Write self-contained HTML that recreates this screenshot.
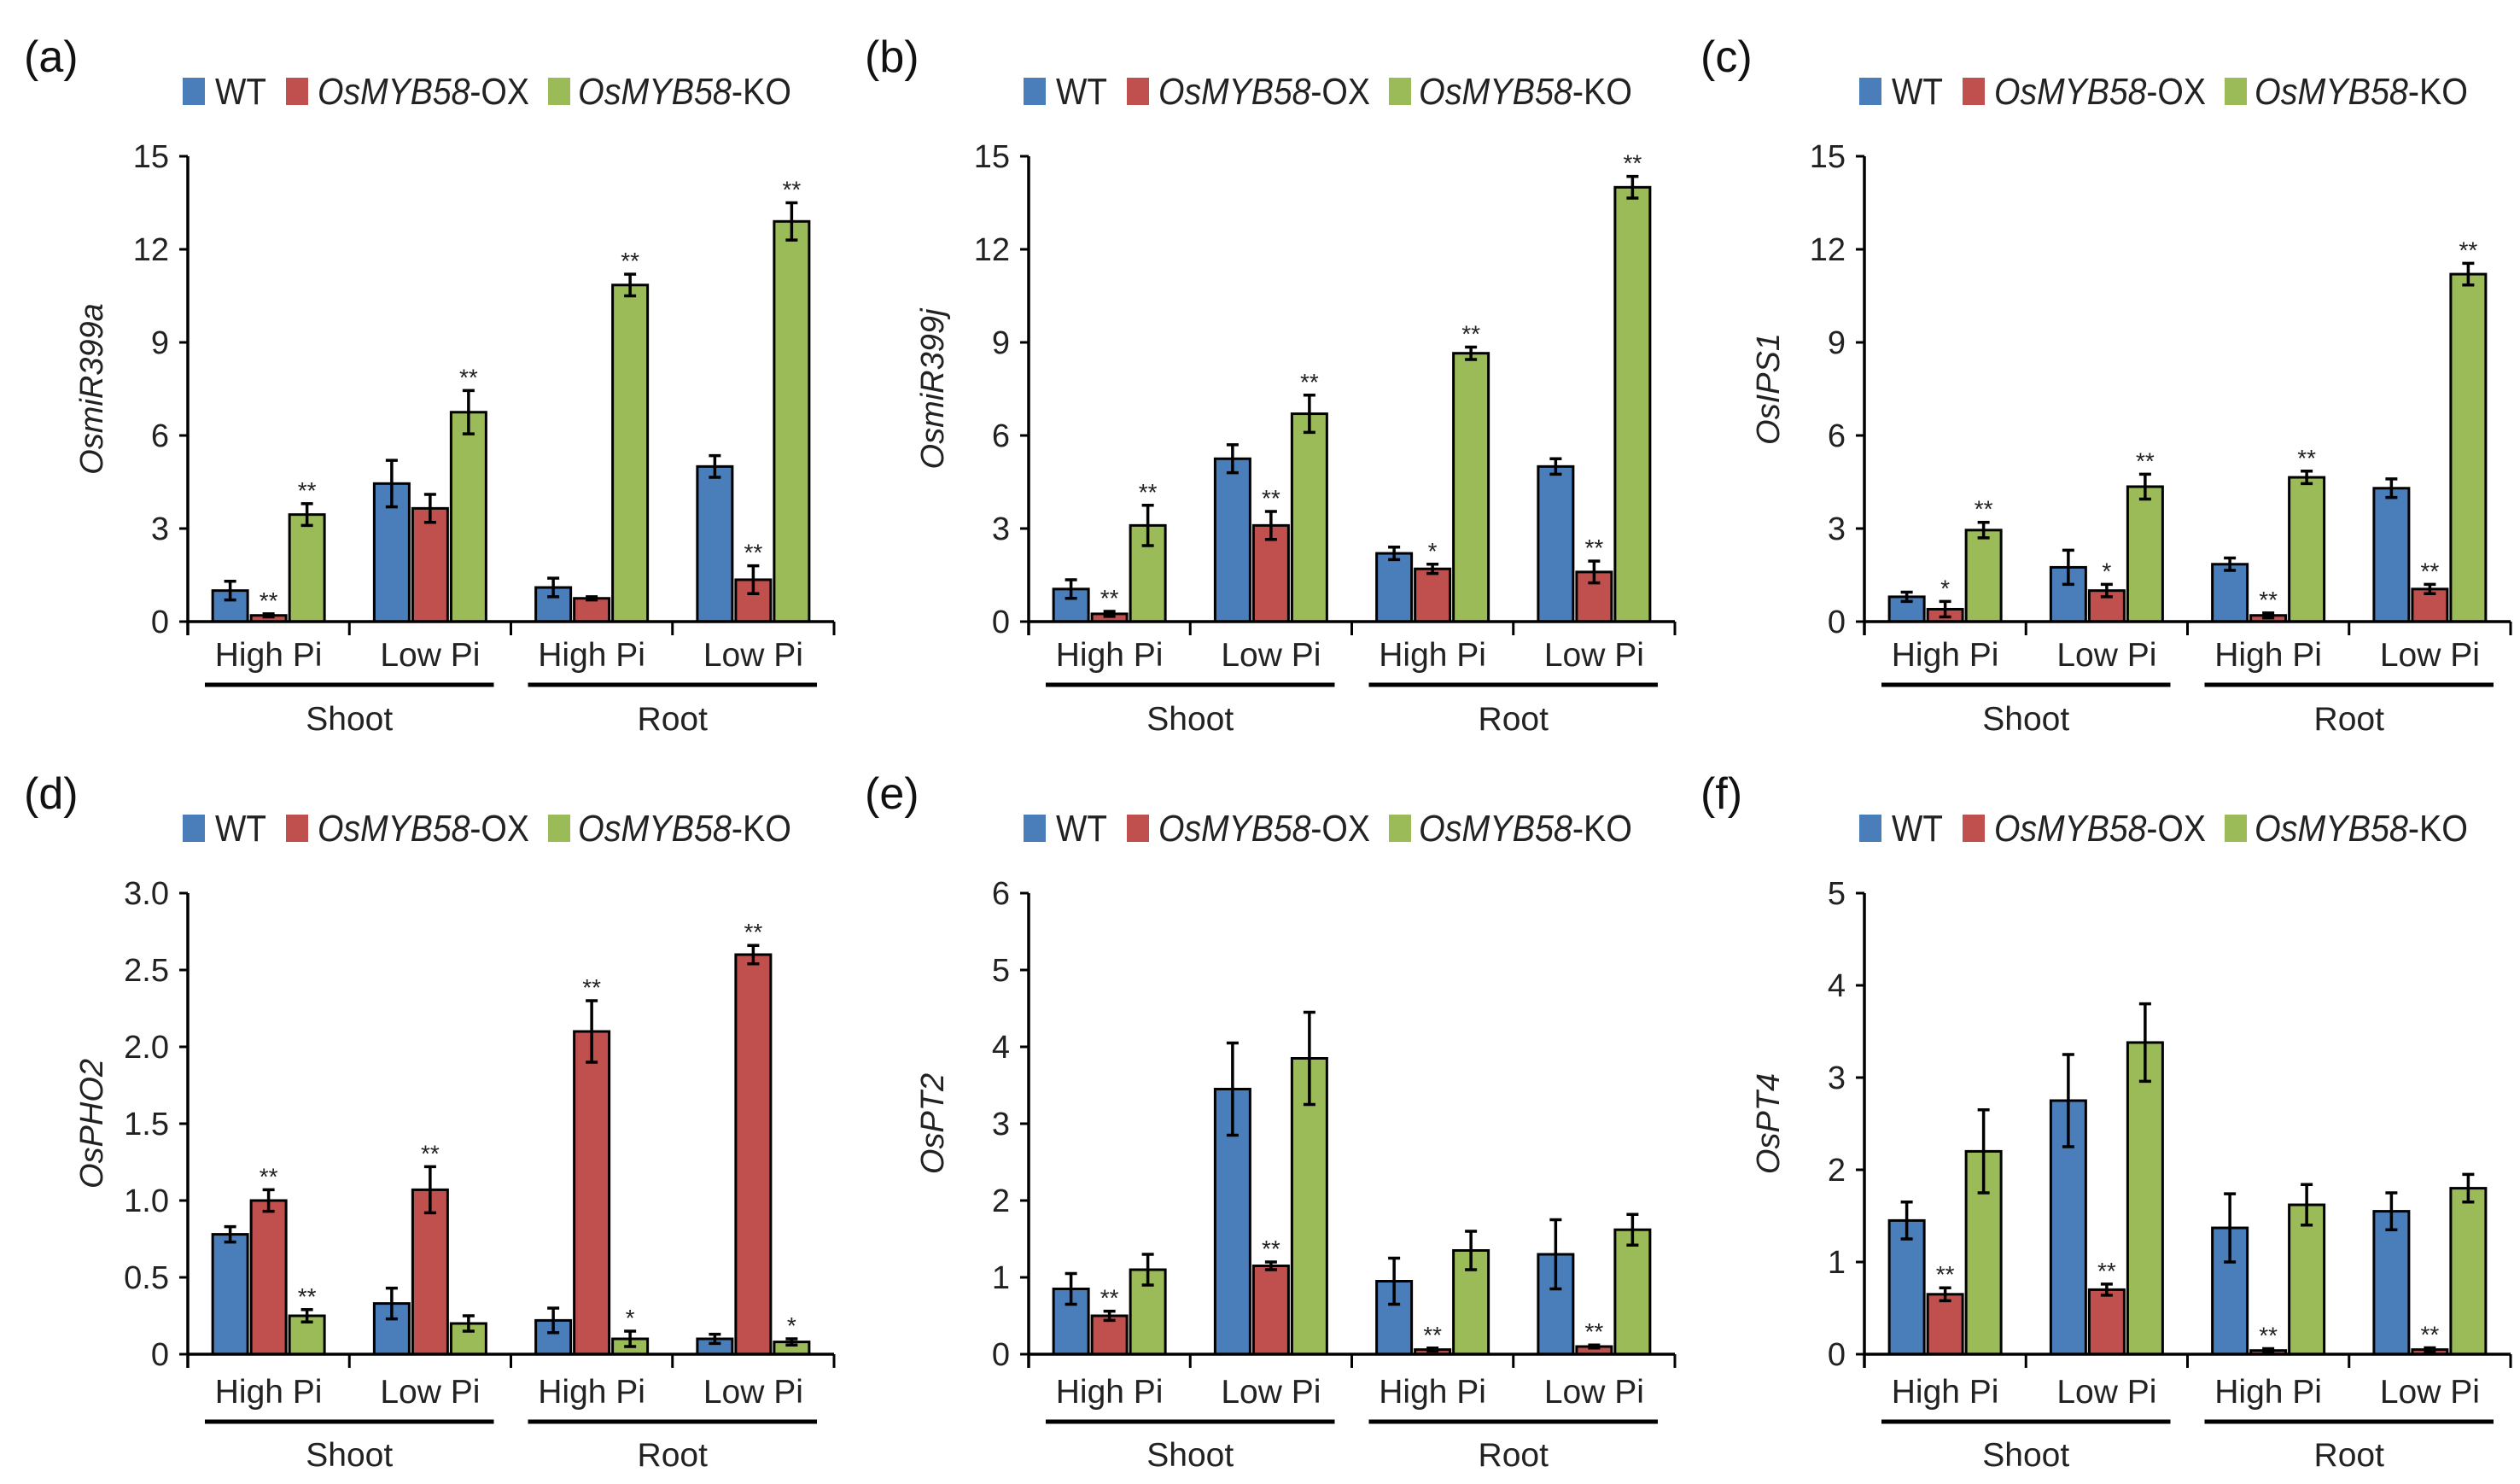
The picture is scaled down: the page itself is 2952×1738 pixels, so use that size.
<!DOCTYPE html>
<html><head><meta charset="utf-8"><style>
html,body{margin:0;padding:0;background:#fff}
svg{display:block;font-family:"Liberation Sans",Arial,sans-serif}
</style></head><body>
<svg id="fig" width="2952" height="1738" viewBox="0 0 2952 1738" xmlns="http://www.w3.org/2000/svg"></svg>
<script>
const seriesNames = ["WT", "OsMYB58-OX", "OsMYB58-KO"];
const groupLabels = ["High Pi", "Low Pi", "High Pi", "Low Pi"];
const tissueLabels = ["Shoot", "Root"];
const panelLetters = ["(a)", "(b)", "(c)", "(d)", "(e)", "(f)"];
const panelTitles = ["OsmiR399a", "OsmiR399j", "OsIPS1", "OsPHO2", "OsPT2", "OsPT4"];
const yMax = [15, 15, 15, 3.0, 6, 5];
const yStep = [3, 3, 3, 0.5, 1, 1];
const yTickLabels = [
 ["0","3","6","9","12","15"],["0","3","6","9","12","15"],["0","3","6","9","12","15"],
 ["0","0.5","1.0","1.5","2.0","2.5","3.0"],["0","1","2","3","4","5","6"],["0","1","2","3","4","5"]];
const values = [
 [[1.0,0.2,3.45],[4.45,3.65,6.75],[1.1,0.75,10.85],[5.0,1.35,12.9]],
 [[1.05,0.25,3.1],[5.25,3.1,6.7],[2.2,1.7,8.65],[5.0,1.6,14.0]],
 [[0.8,0.4,2.95],[1.75,1.0,4.35],[1.85,0.2,4.65],[4.3,1.05,11.2]],
 [[0.78,1.0,0.25],[0.33,1.07,0.2],[0.22,2.1,0.1],[0.1,2.6,0.08]],
 [[0.85,0.5,1.1],[3.45,1.15,3.85],[0.95,0.06,1.35],[1.3,0.1,1.62]],
 [[1.45,0.65,2.2],[2.75,0.7,3.38],[1.37,0.04,1.62],[1.55,0.05,1.8]]];
const errors = [
 [[0.3,0.05,0.35],[0.75,0.45,0.7],[0.3,0.05,0.35],[0.35,0.45,0.6]],
 [[0.3,0.08,0.65],[0.45,0.45,0.6],[0.2,0.15,0.2],[0.25,0.35,0.35]],
 [[0.15,0.25,0.25],[0.55,0.2,0.4],[0.2,0.08,0.2],[0.3,0.15,0.35]],
 [[0.05,0.07,0.04],[0.1,0.15,0.05],[0.08,0.2,0.05],[0.03,0.06,0.02]],
 [[0.2,0.06,0.2],[0.6,0.05,0.6],[0.3,0.02,0.25],[0.45,0.02,0.2]],
 [[0.2,0.07,0.45],[0.5,0.06,0.42],[0.37,0.02,0.22],[0.2,0.02,0.15]]];
const stars = [
 [["","**","**"],["","","**"],["","","**"],["","**","**"]],
 [["","**","**"],["","**","**"],["","*","**"],["","**","**"]],
 [["","*","**"],["","*","**"],["","**","**"],["","**","**"]],
 [["","**","**"],["","**",""],["","**","*"],["","**","*"]],
 [["","**",""],["","**",""],["","**",""],["","**",""]],
 [["","**",""],["","**",""],["","**",""],["","**",""]]];
const colors = ["#4a7ebb","#c0504d","#9bbb59"];
const svg = document.getElementById('fig');
const NS = "http://www.w3.org/2000/svg";
function mk(tag, at, parent){const e=document.createElementNS(NS,tag);for(const k in at)e.setAttribute(k,at[k]);(parent||svg).appendChild(e);return e;}
const axX = [220, 1205, 2184];
const rows = [{top:183, zero:728, leg:107, cat:766, line:802, tis:842, let:66},
              {top:1046, zero:1586, leg:970, cat:1629, line:1665, tis:1704, let:929}];
const axisLen = 757, groupW = axisLen/4, pitch = 45, barW = 41;
for(let p=0;p<6;p++){
  const ax = axX[p%3], r = rows[Math.floor(p/3)];
  const g = mk('g',{});
  
  
  const y = v => r.zero - (v/yMax[p])*(r.zero-r.top);
  const lt = mk('text',{x:ax-192,y:r.let+18,'font-size':52,fill:'#111'},g); lt.textContent=panelLetters[p];
   
  const sqX=[ax-6, ax+115, ax+422], txX=[ax+32, ax+152, ax+457], txL=[60, 248, 250];
  for(let s=0;s<3;s++){
    const sq=mk('rect',{x:sqX[s],y:r.leg-16,width:26,height:32,fill:colors[s]},g);
     
    const t=mk('text',{x:txX[s],y:r.leg+15,'font-size':44,fill:'#222',textLength:txL[s],lengthAdjust:'spacingAndGlyphs'},g);
     
    if(s===0){t.textContent='WT';}
    else {const i=mk('tspan',{'font-style':'italic'},t); i.textContent='OsMYB58'; const n=mk('tspan',{},t); n.textContent=s===1?'-OX':'-KO';}
  }
  const yt=mk('text',{x:0,y:0,'font-size':38,'font-style':'italic',fill:'#222','text-anchor':'middle',transform:`translate(${ax-100},${(r.top+r.zero)/2}) rotate(-90)`},g);
  yt.textContent=panelTitles[p];  
  yTickLabels[p].forEach((lab,i)=>{
    const v=i*yStep[p], yy=y(v);
    const tk=mk('line',{x1:ax-10,x2:ax,y1:yy,y2:yy,stroke:'#000','stroke-width':3},g);
     
    const tl=mk('text',{x:ax-22,y:yy+13,'font-size':38,'text-anchor':'end',fill:'#222'},g);
    tl.textContent=lab;  
  });
  for(let gi=0;gi<4;gi++){
    const cx = ax + groupW*gi + groupW/2;
    for(let s=0;s<3;s++){
      const bx = cx + (s-1)*pitch - barW/2, v=values[p][gi][s], e=errors[p][gi][s];
      const b=mk('rect',{x:bx,y:y(v),width:barW,height:r.zero-y(v),fill:colors[s],stroke:'#000','stroke-width':3},g);
       
      const mx=bx+barW/2;
      const eb=mk('path',{d:`M${mx} ${y(v+e)}V${y(Math.max(0,v-e))}M${mx-7} ${y(v+e)}H${mx+7}M${mx-7} ${y(Math.max(0,v-e))}H${mx+7}`,stroke:'#000','stroke-width':3.5,fill:'none'},g);
       
      if(stars[p][gi][s]){
        const st=mk('text',{x:mx,y:y(v+e)-6,'font-size':28,'text-anchor':'middle',fill:'#222'},g);
        st.textContent=stars[p][gi][s];  
      }
    }
    const cl=mk('text',{x:cx,y:r.cat+14,'font-size':39,'text-anchor':'middle',fill:'#222'},g);
    cl.textContent=groupLabels[gi];  
    if(gi>0){const tk=mk('line',{x1:ax+groupW*gi,x2:ax+groupW*gi,y1:r.zero,y2:r.zero+16,stroke:'#000','stroke-width':3},g);
       }
  }
  const tkE=mk('line',{x1:ax+axisLen,x2:ax+axisLen,y1:r.zero,y2:r.zero+16,stroke:'#000','stroke-width':3},g);
   
  const ya=mk('line',{x1:ax,x2:ax,y1:r.top,y2:r.zero+16,stroke:'#000','stroke-width':3.5},g);
   
  const xa=mk('line',{x1:ax,x2:ax+axisLen,y1:r.zero,y2:r.zero,stroke:'#000','stroke-width':3.5},g);
   
  for(let t=0;t<2;t++){
    const x1=ax+t*2*groupW+20, x2=ax+(t*2+2)*groupW-20;
    const ln=mk('line',{x1:x1,x2:x2,y1:r.line,y2:r.line,stroke:'#000','stroke-width':5},g);
     
    const tl=mk('text',{x:(x1+x2)/2,y:r.tis+13,'font-size':39,'text-anchor':'middle',fill:'#222'},g);
    tl.textContent=tissueLabels[t];  
  }
}
</script>
</body></html>
